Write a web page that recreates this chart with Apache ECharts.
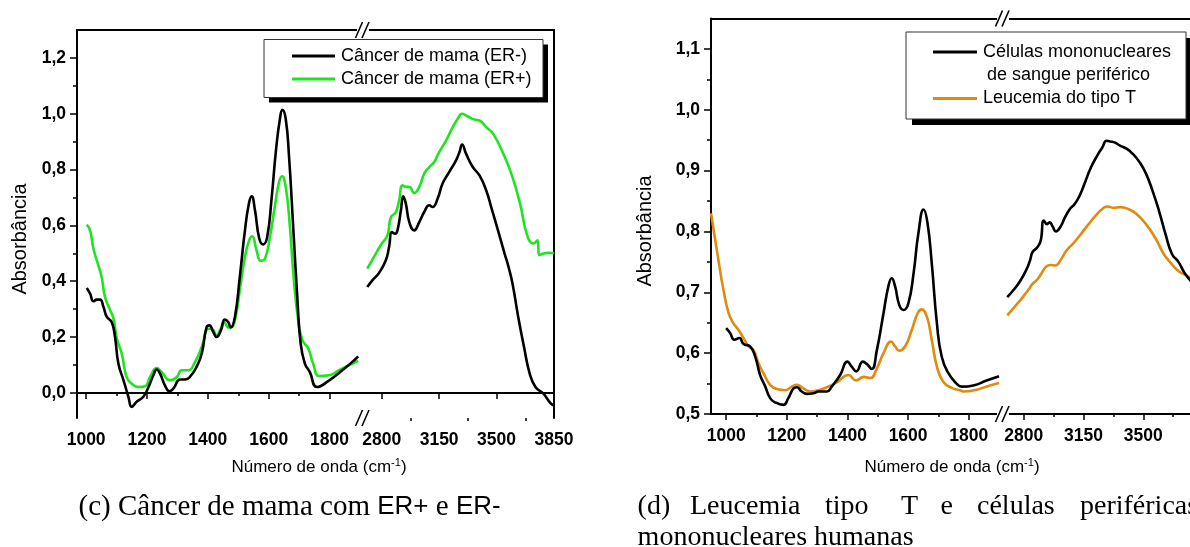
<!DOCTYPE html>
<html>
<head>
<meta charset="utf-8">
<script src="https://cdn.jsdelivr.net/npm/echarts@6/dist/echarts.min.js"></script>
<style>
html, body { margin: 0; padding: 0; background: #fff; }
#chart { width: 1190px; height: 547px; }
</style>
</head>
<body>
<div id="chart"></div>
<script>
/* ---------------- dados ---------------- */
// (c) cancer de mama, faixa 1000-1900 cm-1
var erNegBaixo = [[1002,0.376],[1013,0.356],[1024,0.328],[1035,0.334],[1046,0.334],[1057,0.308],[1068,0.272],[1084,0.254],[1095,0.20],[1106,0.105],[1123,0.045],[1139,-0.014],[1150,-0.05],[1166,-0.032],[1188,-0.014],[1205,0.021],[1221,0.063],[1232,0.084],[1243,0.069],[1259,0.027],[1274,0.006],[1287,0.016],[1309,0.048],[1325,0.048],[1341,0.057],[1363,0.093],[1380,0.141],[1396,0.236],[1405,0.242],[1418,0.218],[1429,0.200],[1443,0.224],[1456,0.263],[1467,0.254],[1475,0.234],[1489,0.272],[1505,0.415],[1522,0.582],[1535,0.678],[1544,0.704],[1555,0.654],[1569,0.553],[1582,0.532],[1595,0.558],[1609,0.690],[1624,0.869],[1637,0.982],[1645,1.014],[1656,0.982],[1667,0.845],[1680,0.606],[1694,0.344],[1705,0.177],[1719,0.105],[1735,0.075],[1759,0.021],[1799,0.045],[1842,0.081],[1875,0.111],[1894,0.131]];
var erPosBaixo = [[1002,0.603],[1013,0.582],[1024,0.517],[1040,0.457],[1051,0.415],[1062,0.344],[1079,0.296],[1090,0.266],[1101,0.195],[1117,0.141],[1133,0.057],[1150,0.033],[1172,0.021],[1194,0.024],[1210,0.057],[1232,0.089],[1248,0.075],[1276,0.045],[1298,0.057],[1314,0.081],[1336,0.081],[1358,0.111],[1380,0.165],[1402,0.230],[1413,0.230],[1429,0.206],[1440,0.224],[1454,0.254],[1465,0.236],[1475,0.234],[1489,0.260],[1505,0.368],[1522,0.487],[1536,0.547],[1546,0.561],[1560,0.511],[1574,0.473],[1588,0.481],[1604,0.558],[1620,0.666],[1634,0.755],[1644,0.776],[1656,0.737],[1669,0.606],[1682,0.415],[1697,0.260],[1711,0.189],[1730,0.159],[1746,0.105],[1766,0.060],[1799,0.063],[1831,0.081],[1864,0.099],[1894,0.115]];
// (c) faixa 2700-3850 cm-1
var erNegAlto = [[2712,0.379],[2743,0.403],[2784,0.430],[2825,0.475],[2845,0.523],[2862,0.576],[2882,0.570],[2896,0.582],[2917,0.654],[2931,0.704],[2947,0.678],[2968,0.612],[2998,0.582],[3029,0.612],[3059,0.648],[3090,0.672],[3110,0.666],[3141,0.696],[3171,0.750],[3212,0.792],[3253,0.833],[3274,0.863],[3290,0.890],[3314,0.857],[3355,0.809],[3396,0.779],[3437,0.725],[3470,0.66],[3503,0.594],[3549,0.499],[3573,0.451],[3597,0.392],[3632,0.272],[3667,0.165],[3702,0.069],[3737,0.021],[3784,-0.002],[3830,-0.038],[3850,-0.045]];
var erPosAlto = [[2712,0.445],[2753,0.487],[2794,0.529],[2835,0.565],[2856,0.629],[2886,0.647],[2906,0.690],[2927,0.744],[2947,0.738],[2968,0.738],[2998,0.716],[3029,0.738],[3059,0.785],[3090,0.809],[3120,0.827],[3151,0.863],[3192,0.904],[3233,0.952],[3263,0.982],[3290,1.000],[3325,0.990],[3366,0.979],[3396,0.976],[3437,0.952],[3480,0.928],[3550,0.845],[3597,0.773],[3643,0.678],[3690,0.558],[3725,0.535],[3749,0.547],[3760,0.493],[3784,0.499],[3820,0.502],[3850,0.499]];

// (d) leucemia / celulas mononucleares, faixa 950-1900
var pbmcBaixo = [[1000,0.641],[1013,0.633],[1027,0.622],[1044,0.625],[1057,0.615],[1079,0.611],[1096,0.594],[1112,0.564],[1129,0.545],[1145,0.526],[1162,0.519],[1189,0.515],[1205,0.526],[1222,0.542],[1233,0.544],[1249,0.537],[1266,0.533],[1288,0.534],[1304,0.537],[1332,0.537],[1348,0.545],[1376,0.564],[1400,0.586],[1414,0.578],[1429,0.570],[1451,0.586],[1464,0.582],[1480,0.574],[1497,0.605],[1519,0.666],[1535,0.710],[1546,0.723],[1557,0.710],[1571,0.679],[1585,0.671],[1601,0.682],[1618,0.731],[1634,0.797],[1651,0.836],[1664,0.814],[1678,0.748],[1695,0.649],[1711,0.594],[1733,0.567],[1760,0.550],[1777,0.545],[1815,0.547],[1859,0.555],[1900,0.562]];
var leucBaixo = [[950,0.830],[964,0.786],[978,0.742],[991,0.704],[1008,0.666],[1024,0.649],[1041,0.638],[1057,0.625],[1074,0.611],[1090,0.605],[1107,0.583],[1123,0.567],[1145,0.548],[1167,0.541],[1195,0.539],[1216,0.545],[1233,0.548],[1255,0.542],[1277,0.537],[1304,0.539],[1332,0.544],[1365,0.552],[1403,0.564],[1429,0.555],[1453,0.561],[1475,0.559],[1497,0.575],[1519,0.600],[1544,0.619],[1557,0.611],[1571,0.604],[1590,0.611],[1612,0.638],[1632,0.666],[1645,0.672],[1662,0.660],[1678,0.622],[1695,0.578],[1716,0.553],[1744,0.543],[1771,0.539],[1782,0.537],[1826,0.540],[1870,0.547],[1900,0.551]];
// (d) faixa 2700-3850
var pbmcAlto = [[2703,0.692],[2737,0.703],[2775,0.717],[2813,0.736],[2836,0.752],[2851,0.766],[2879,0.774],[2899,0.785],[2917,0.818],[2936,0.812],[2952,0.815],[2969,0.808],[2988,0.800],[3013,0.807],[3041,0.823],[3070,0.837],[3098,0.845],[3127,0.859],[3155,0.878],[3193,0.905],[3231,0.925],[3260,0.938],[3285,0.949],[3307,0.948],[3335,0.946],[3364,0.941],[3402,0.936],[3440,0.927],[3478,0.914],[3516,0.895],[3554,0.867],[3592,0.834],[3630,0.796],[3668,0.763],[3706,0.750],[3744,0.731],[3790,0.715]];
var leucAlto = [[2703,0.662],[2746,0.676],[2794,0.692],[2832,0.706],[2851,0.714],[2879,0.721],[2908,0.733],[2927,0.741],[2956,0.745],[2984,0.744],[3013,0.752],[3051,0.769],[3089,0.780],[3127,0.793],[3174,0.810],[3221,0.826],[3260,0.837],[3288,0.841],[3326,0.839],[3364,0.840],[3412,0.837],[3459,0.829],[3516,0.812],[3573,0.788],[3620,0.763],[3668,0.746],[3706,0.735],[3744,0.729],[3790,0.722]];

// ticks
var xTicksBaixo = [1000, 1200, 1400, 1600, 1800];
var xMinorBaixo = [1100, 1300, 1500, 1700];
var xTicksAltoC = [2800, 3150, 3500, 3850];
var xTicksAltoD = [2800, 3150, 3500];
var xMinorAlto = [2975, 3325, 3675];
var yTicksC = [0, 0.2, 0.4, 0.6, 0.8, 1.0, 1.2];
var yMinorC = [0.1, 0.3, 0.5, 0.7, 0.9, 1.1];
var yTicksD = [0.5, 0.6, 0.7, 0.8, 0.9, 1.0, 1.1];
var yMinorD = [0.55, 0.65, 0.75, 0.85, 0.95, 1.05];

/* ---------------- configuracao ---------------- */
var SANS = '"Liberation Sans", Arial, sans-serif';
var SERIF = '"Liberation Serif", "Times New Roman", serif';
var PRETO = '#000000';
var VERDE = '#1fe41f';
var LARANJA = '#e08a10';

var myChart = echarts.init(document.getElementById('chart'));

// 3 eixos x por grid: principal (rotulos), ticks menores, linha de cima
function eixosX(g, min, max, ticks, minors) {
	return [{
		type: 'value', gridIndex: g, min: min, max: max, position: 'bottom',
		axisLine: { show: true, lineStyle: { color: PRETO, width: 2 } },
		axisTick: { show: true, length: 6, customValues: ticks, lineStyle: { color: PRETO, width: 1.5 } },
		axisLabel: { customValues: ticks, formatter: function (v) { return String(v); },
			fontFamily: SANS, fontWeight: 'bold', fontSize: 17.5, color: PRETO, margin: 13 },
		splitLine: { show: false }
	}, {
		type: 'value', gridIndex: g, min: min, max: max, position: 'bottom',
		axisLine: { show: false },
		axisTick: { show: true, length: 3, customValues: minors, lineStyle: { color: PRETO, width: 1.5 } },
		axisLabel: { show: false }, splitLine: { show: false }
	}, {
		type: 'value', gridIndex: g, min: min, max: max, position: 'top',
		axisLine: { show: true, lineStyle: { color: PRETO, width: 2 } },
		axisTick: { show: false }, axisLabel: { show: false }, splitLine: { show: false }
	}];
}
function eixosYEsq(g, min, max, ticks, minors) {
	return [{
		type: 'value', gridIndex: g, min: min, max: max, position: 'left',
		axisLine: { show: true, lineStyle: { color: PRETO, width: 2 } },
		axisTick: { show: true, length: 7, customValues: ticks, lineStyle: { color: PRETO, width: 1.5 } },
		axisLabel: { customValues: ticks, formatter: function (v) { return v.toFixed(1).replace('.', ','); },
			fontFamily: SANS, fontWeight: 'bold', fontSize: 17.5, color: PRETO, margin: 11 },
		splitLine: { show: false }
	}, {
		type: 'value', gridIndex: g, min: min, max: max, position: 'left',
		axisLine: { show: false },
		axisTick: { show: true, length: 4, customValues: minors, lineStyle: { color: PRETO, width: 1.5 } },
		axisLabel: { show: false }, splitLine: { show: false }
	}];
}
function eixoYDir(g, min, max) {
	return {
		type: 'value', gridIndex: g, min: min, max: max, position: 'right',
		axisLine: { show: true, lineStyle: { color: PRETO, width: 2 } },
		axisTick: { show: false }, axisLabel: { show: false }, splitLine: { show: false }
	};
}

var xAxis = [].concat(
	eixosX(0, 970, 1910, xTicksBaixo, xMinorBaixo),		// 0,1,2
	eixosX(1, 2686, 3850, xTicksAltoC, xMinorAlto),		// 3,4,5
	eixosX(2, 950, 1913, xTicksBaixo, xMinorBaixo),		// 6,7,8
	eixosX(3, 2678, 3850, xTicksAltoD, xMinorAlto)		// 9,10,11
);
var yAxis = [].concat(
	eixosYEsq(0, -0.09, 1.3, yTicksC, yMinorC),			// 0,1
	[eixoYDir(1, -0.09, 1.3)],							// 2
	eixosYEsq(2, 0.5, 1.15, yTicksD, yMinorD),			// 3,4
	[eixoYDir(3, 0.5, 1.15)]							// 5
);

function serie(nome, dados, xi, yi, cor) {
	return {
		name: nome, type: 'line', data: dados, xAxisIndex: xi, yAxisIndex: yi,
		showSymbol: false, smooth: 0.5,
		lineStyle: { color: cor, width: 2.6 }, itemStyle: { color: cor },
		animation: false, silent: true, z: 3
	};
}

// caixas de legenda, marcas de quebra, textos
function legenda(x, y, w, h, off) {
	return [
		{ type: 'rect', shape: { x: x + off, y: y + off, width: w, height: h }, style: { fill: PRETO }, z: 10 },
		{ type: 'rect', shape: { x: x, y: y, width: w, height: h }, style: { fill: '#fff', stroke: '#333', lineWidth: 1 }, z: 11 }
	];
}
function linhaLeg(x1, x2, y, cor) {
	return { type: 'line', shape: { x1: x1, y1: y, x2: x2, y2: y }, style: { stroke: cor, lineWidth: 3 }, z: 12 };
}
function texto(x, y, t, font, align, extra) {
	var el = { type: 'text', x: x, y: y, z: 12,
		style: { text: t, font: font, fill: PRETO, textAlign: align || 'left', textVerticalAlign: 'middle' } };
	if (extra) { for (var k in extra) el[k] = extra[k]; }
	return el;
}
function quebra(cx, cy) {
	return [
		{ type: 'rect', shape: { x: cx - 6, y: cy - 3, width: 12, height: 6 }, style: { fill: '#fff' }, z: 20 },
		{ type: 'line', shape: { x1: cx - 7.5, y1: cy + 8, x2: cx - 0.5, y2: cy - 8 }, style: { stroke: PRETO, lineWidth: 1.6 }, z: 21 },
		{ type: 'line', shape: { x1: cx - 1, y1: cy + 8, x2: cx + 6, y2: cy - 8 }, style: { stroke: PRETO, lineWidth: 1.6 }, z: 21 }
	];
}

var supRich = { sup: { font: '11px ' + SANS, padding: [0, 0, 9, 0] } };

var graphic = [].concat(
	legenda(264, 39.5, 279, 58, 5),
	[linhaLeg(292, 335, 56, PRETO), linhaLeg(292, 335, 79, VERDE),
	 texto(341, 56, 'Câncer de mama (ER-)', '18px ' + SANS),
	 texto(341, 79, 'Câncer de mama (ER+)', '18px ' + SANS)],
	legenda(906, 32, 280, 87, 6),
	[linhaLeg(933, 977, 52, PRETO), linhaLeg(933, 977, 98.5, LARANJA),
	 texto(983, 52, 'Células mononucleares', '18px ' + SANS),
	 texto(987, 75, 'de sangue periférico', '18px ' + SANS),
	 texto(983, 98.5, 'Leucemia do tipo T', '18px ' + SANS)],
	quebra(363, 30), quebra(363, 418), quebra(1003, 18.5), quebra(1003, 414),
	[texto(20, 239, 'Absorbância', '20px ' + SANS, 'center', { rotation: Math.PI / 2 }),
	 texto(645, 231, 'Absorbância', '20px ' + SANS, 'center', { rotation: Math.PI / 2 })],
	[{ type: 'text', x: 319, y: 467, z: 12, style: { text: 'Número de onda (cm{sup|-1})', font: '17px ' + SANS, fill: PRETO, textAlign: 'center', textVerticalAlign: 'middle', rich: supRich } },
	 { type: 'text', x: 952, y: 467, z: 12, style: { text: 'Número de onda (cm{sup|-1})', font: '17px ' + SANS, fill: PRETO, textAlign: 'center', textVerticalAlign: 'middle', rich: supRich } }],
	[{ type: 'text', x: 78.5, y: 507, z: 12, style: { text: '(c) Câncer de mama com {s|ER+} e {s|ER-}', font: '29px ' + SERIF, fill: PRETO, textAlign: 'left', textVerticalAlign: 'middle', rich: { s: { font: '26px ' + SANS } } } }],
	[texto(637.6, 507, '(d)', '28px ' + SERIF), texto(690, 507, 'Leucemia', '28px ' + SERIF),
	 texto(825, 507, 'tipo', '28px ' + SERIF), texto(901, 507, 'T', '28px ' + SERIF),
	 texto(940.5, 507, 'e', '28px ' + SERIF), texto(977, 507, 'células', '28px ' + SERIF),
	 texto(1080, 507, 'periféricas', '28px ' + SERIF),
	 texto(637.6, 538, 'mononucleares humanas', '28px ' + SERIF)]
);

var option = {
	backgroundColor: '#fff',
	animation: false,
	grid: [
		{ left: 77, top: 30, width: 286, height: 388, outerBoundsMode: 'none', containLabel: false },
		{ left: 363, top: 30, width: 191, height: 388, outerBoundsMode: 'none', containLabel: false },
		{ left: 711, top: 18.5, width: 292, height: 395.5, outerBoundsMode: 'none', containLabel: false },
		{ left: 1003, top: 18.5, width: 200, height: 395.5, outerBoundsMode: 'none', containLabel: false }
	],
	xAxis: xAxis,
	yAxis: yAxis,
	series: [
		serie('ER+ baixo', erPosBaixo, 0, 0, VERDE),
		serie('ER- baixo', erNegBaixo, 0, 0, PRETO),
		serie('ER+ alto', erPosAlto, 3, 2, VERDE),
		serie('ER- alto', erNegAlto, 3, 2, PRETO),
		serie('Leucemia baixo', leucBaixo, 6, 3, LARANJA),
		serie('PBMC baixo', pbmcBaixo, 6, 3, PRETO),
		serie('Leucemia alto', leucAlto, 9, 5, LARANJA),
		serie('PBMC alto', pbmcAlto, 9, 5, PRETO)
	],
	graphic: graphic
};
myChart.setOption(option);
</script>
</body>
</html>
